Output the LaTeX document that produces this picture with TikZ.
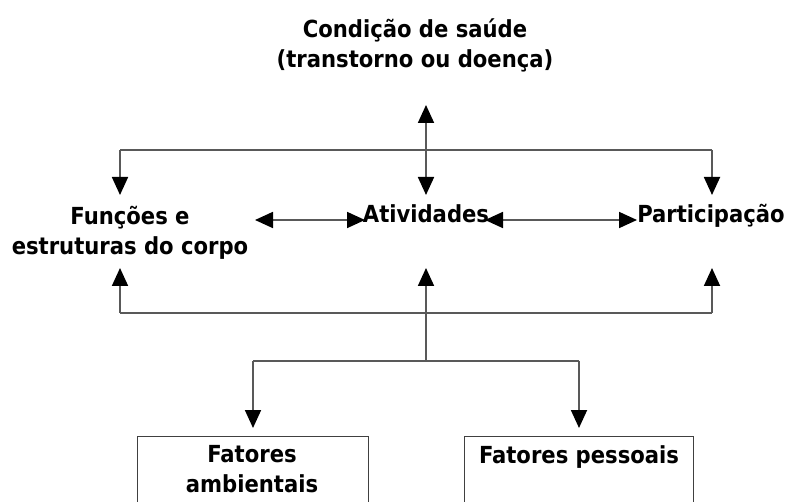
\documentclass[tikz,border=0pt]{standalone}
\usepackage{fontspec}
\setmainfont{DejaVu Sans Condensed}
\usetikzlibrary{arrows.meta,positioning}

\begin{document}
\begin{tikzpicture}[x=1pt,y=-1pt,
  txt/.style={font=\fontsize{23.5pt}{30pt}\selectfont\bfseries,inner sep=0pt,align=center},
  ln/.style={line width=1.8pt,black!65},
  arr/.style={ln,-{Triangle[length=18pt,width=16pt,black]}},
  dbl/.style={ln,{Triangle[length=18pt,width=16pt,black]}-{Triangle[length=18pt,width=16pt,black]}},
  caixa/.style={draw=black!75,line width=1.4pt,inner sep=0pt}]
\def\xl{120}
\def\xc{426}
\def\xr{712}
\def\yt{150}
\def\yb{313}
\def\ym{220}
\useasboundingbox (0,0) rectangle (787,502);
\clip (0,0) rectangle (787,502);
\node[txt,anchor=base] (cond) at (415,68) {Condição de saúde\\(transtorno ou doença)};
\node[txt,anchor=base] (func) at (130,255) {Funções e\\estruturas do corpo};
\node[txt,anchor=base] (ativ) at (\xc,223) {Atividades};
\node[txt,anchor=base] (part) at (711,223) {Participação};
\node[caixa,minimum width=231pt,minimum height=90pt,anchor=north west] (boxamb) at (137,436) {};
\node[caixa,minimum width=229pt,minimum height=90pt,anchor=north west] (boxpes) at (464,436) {};
\node[txt,anchor=base] (amb) at (252,492) {Fatores\\ambientais};
\node[txt,anchor=base] (pes) at (579,463) {Fatores pessoais};
\coordinate (topo) at (\xc,105);
\coordinate (tl) at (\xl,\yt);
\coordinate (tr) at (\xr,\yt);
\coordinate (bl) at (\xl,\yb);
\coordinate (bc) at (\xc,\yb);
\coordinate (br) at (\xr,\yb);
\coordinate (split) at (\xc,361);
\draw[dbl] (topo) -- (\xc,195);
\draw[ln] (tl) -- (tr);
\draw[arr] (tl) -- (\xl,195);
\draw[arr] (tr) -- (\xr,195);
\draw[dbl] (255,\ym) -- (365,\ym);
\draw[dbl] (485,\ym) -- (637,\ym);
\draw[ln] (bl) -- (br);
\foreach \xx in {\xl,\xc,\xr}
  \draw[arr] (\xx,\yb) -- (\xx,268);
\draw[ln] (bc) -- (split);
\draw[ln] (253,361) -- (579,361);
\draw[arr] (253,361) -- ([yshift=8pt]boxamb.north -| 253,0);
\draw[arr] (579,361) -- ([yshift=8pt]boxpes.north -| 579,0);
\end{tikzpicture}
\end{document}
